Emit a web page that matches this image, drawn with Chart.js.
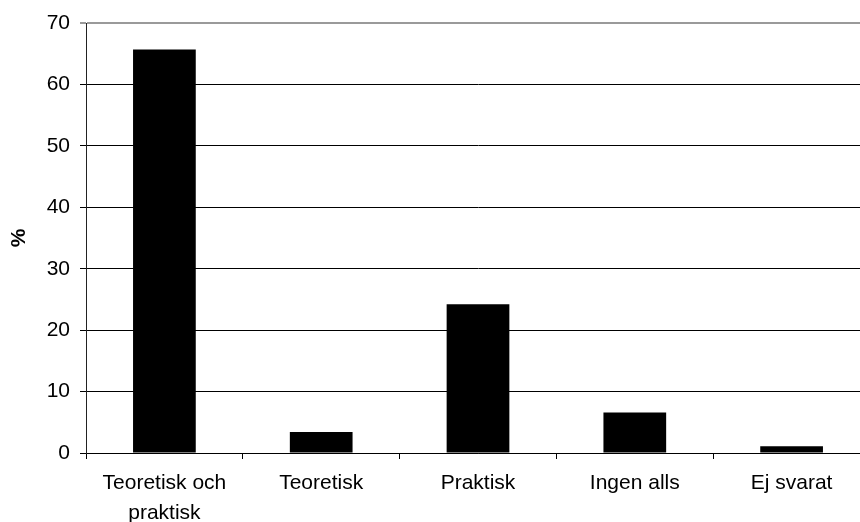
<!DOCTYPE html>
<html>
<head>
<meta charset="utf-8">
<script src="https://cdn.jsdelivr.net/npm/chart.js@4"></script>
<style>
  html, body { margin: 0; padding: 0; background: #fff; overflow: hidden; }
  #wrap { width: 880px; height: 522px; }
</style>
</head>
<body>
<div id="wrap"><canvas id="chart"></canvas></div>
<script>
// survey answers, share in percent
const categories = [['Teoretisk och', 'praktisk'], 'Teoretisk', 'Praktisk', 'Ingen alls', 'Ej svarat'];
const percentValues = [65.7, 3.4, 24.2, 6.6, 1.1];
const yTicks = [0, 10, 20, 30, 40, 50, 60, 70];

(function () {
	'use strict';

	const fontFamily = '"Liberation Sans", Arial, sans-serif';

	new Chart(document.getElementById('chart'), {
		type: 'bar',
		data: {
			labels: categories,
			datasets: [{
				data: percentValues,
				backgroundColor: '#000',
				borderWidth: 0,
				barPercentage: 0.4,
				categoryPercentage: 1
			}]
		},
		options: {
			animation: false,
			responsive: true,
			maintainAspectRatio: false,
			layout: {
				padding: { top: 23, right: 10, bottom: 0, left: 0 }
			},
			plugins: {
				legend: { display: false },
				tooltip: { enabled: false }
			},
			scales: {
				x: {
					offset: true,
					grid: {
						display: true,
						drawOnChartArea: false,
						drawTicks: true,
						tickLength: 6,
						color: '#000',
						offset: true
					},
					border: { color: '#000', width: 1 },
					ticks: {
						color: '#000',
						padding: 9,
						maxRotation: 0,
						autoSkip: false,
						font: { family: fontFamily, size: 21, lineHeight: 1.43 }
					},
					afterFit: function (scale) { scale.height = 69; }
				},
				y: {
					min: 0,
					max: 70,
					afterBuildTicks: function (scale) {
						scale.ticks = yTicks.map(function (v) { return { value: v }; });
					},
					grid: {
						color: function (ctx) {
							return ctx.tick && ctx.tick.value === 70 ? '#9a9a9a' : '#000';
						},
						lineWidth: function (ctx) {
							return ctx.tick && ctx.tick.value === 70 ? 2 : 1;
						},
						tickLength: 6
					},
					border: { color: '#222', width: 1 },
					ticks: {
						color: '#000',
						padding: 10,
						font: { family: fontFamily, size: 21 }
					},
					title: {
						display: true,
						text: '%',
						color: '#000',
						padding: { top: 7, bottom: 0 },
						font: { family: fontFamily, size: 21, weight: 'bold' }
					},
					afterFit: function (scale) { scale.width = 86; }
				}
			}
		}
	});
})();
</script>
</body>
</html>
